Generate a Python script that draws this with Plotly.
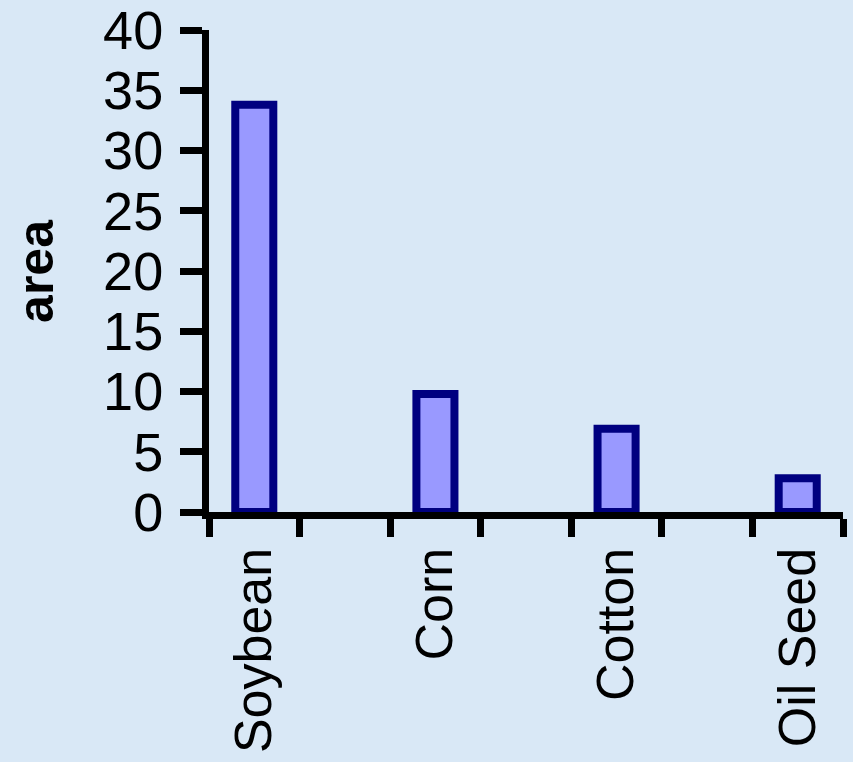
import plotly.graph_objects as go

categories = ["Soybean", "Corn", "Cotton", "Oil Seed"]
area_values = [33.8, 9.8, 6.9, 2.8]
y_ticks = [0, 5, 10, 15, 20, 25, 30, 35, 40]
y_title = "area"

# bars sit in every other category slot (empty slots between them)
x_pos = [2 * i for i in range(len(categories))]
n_slots = 2 * len(categories) - 1
boundaries = [i - 0.5 for i in range(n_slots + 1)]

fig = go.Figure()
fig.add_trace(go.Bar(
    x=x_pos, y=area_values, width=0.42,
    marker=dict(color="#9999ff", line=dict(color="#000080", width=8)),
    showlegend=False,
))

font = "Liberation Sans, Arial, sans-serif"
fig.update_layout(
    width=853, height=762,
    paper_bgcolor="#d9e8f6", plot_bgcolor="#d9e8f6",
    margin=dict(l=209, r=10, t=30, b=250, autoexpand=False),
    font=dict(family=font, color="black"),
    xaxis=dict(
        range=[-0.5, n_slots - 0.5], automargin=False,
        tickmode="array", tickvals=x_pos, ticktext=categories,
        tickangle=-90, ticks="", ticklen=0,
        tickfont=dict(size=52, family=font),
        ticklabelstandoff=8, ticklabeloverflow="allow",
        showline=True, linecolor="black", linewidth=7,
        showgrid=False, zeroline=False,
        minor=dict(tickmode="array", tickvals=boundaries, ticks="outside",
                   ticklen=18, tickwidth=7, tickcolor="black", showgrid=False),
    ),
    yaxis=dict(
        range=[0, 40], automargin=False, tickmode="array", tickvals=y_ticks,
        ticks="outside", ticklen=22, tickwidth=7, tickcolor="black",
        tickfont=dict(size=54, family=font),
        ticklabelstandoff=6, ticklabeloverflow="allow",
        showline=True, linecolor="black", linewidth=7,
        showgrid=False, zeroline=False,
    ),
    annotations=[dict(
        text="<b>" + y_title + "</b>", textangle=-90,
        xref="paper", yref="paper", x=-0.273, y=0.50,
        xanchor="center", yanchor="middle", showarrow=False,
        font=dict(size=50, family=font, color="black"),
    )],
)

fig.write_html("out.html", config={"displayModeBar": False},
               post_script="document.body.style.margin='0';")
